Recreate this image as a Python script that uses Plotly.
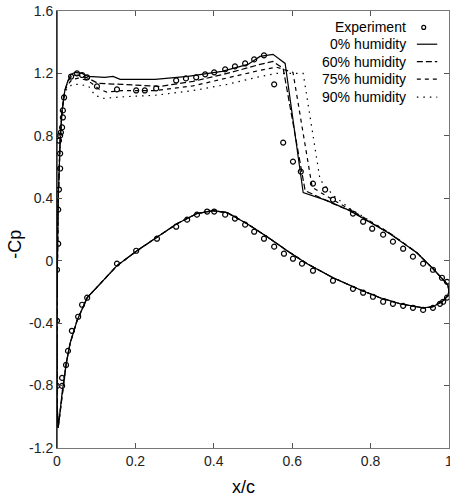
import plotly.graph_objects as go

# ---------------- data (x/c , -Cp) ----------------
# shared leading-edge rise of the upper surface (all model runs)
LE_X = [0.003, 0.0, 0.0, 0.003, 0.008, 0.013, 0.020]
LE_CP = [-1.07, -0.90, -0.26, 0.385, 0.77, 0.963, 1.091]

# upper surface, 0% humidity
UP0_X = [0.028, 0.036, 0.046, 0.064, 0.079, 0.122, 0.143, 0.161, 0.25, 0.334, 0.421,
         0.487, 0.518, 0.551, 0.582, 0.628, 0.689, 0.747, 0.781, 0.849, 0.918, 0.959, 0.997, 1.0]
UP0_CP = [1.155, 1.194, 1.207, 1.20, 1.181, 1.175, 1.181, 1.162, 1.162, 1.181, 1.213,
          1.258, 1.309, 1.322, 1.264, 0.436, 0.385, 0.321, 0.27, 0.173, 0.051, -0.051, -0.154, -0.193]

# upper surface, 60% humidity
UP60_X = [0.028, 0.038, 0.054, 0.079, 0.105, 0.166, 0.263, 0.347, 0.434, 0.518, 0.551,
          0.577, 0.633, 0.704, 0.747, 0.781, 0.849, 0.918, 0.959, 0.997, 1.0]
UP60_CP = [1.15, 1.185, 1.19, 1.17, 1.136, 1.13, 1.117, 1.149, 1.20, 1.258, 1.277,
           1.232, 0.449, 0.366, 0.321, 0.275, 0.175, 0.051, -0.051, -0.154, -0.193]

# upper surface, 75% humidity
UP75_X = [0.028, 0.038, 0.054, 0.079, 0.107, 0.127, 0.166, 0.25, 0.347, 0.434, 0.518,
          0.56, 0.602, 0.651, 0.704, 0.747, 0.781, 0.849, 0.918, 0.959, 0.997, 1.0]
UP75_CP = [1.13, 1.16, 1.17, 1.155, 1.10, 1.08, 1.09, 1.09, 1.12, 1.17, 1.22,
           1.24, 1.207, 0.47, 0.39, 0.33, 0.28, 0.177, 0.051, -0.051, -0.154, -0.193]

# upper surface, 90% humidity
UP90_X = [0.028, 0.038, 0.054, 0.080, 0.097, 0.117, 0.166, 0.25, 0.347, 0.434, 0.518,
          0.56, 0.628, 0.671, 0.704, 0.747, 0.781, 0.849, 0.918, 0.959, 0.997, 1.0]
UP90_CP = [1.10, 1.13, 1.13, 1.12, 1.06, 1.04, 1.05, 1.06, 1.09, 1.13, 1.18,
           1.20, 1.20, 0.52, 0.42, 0.335, 0.28, 0.177, 0.051, -0.051, -0.154, -0.193]

# lower surface (all model runs coincide)
LOW_X = [0.003, 0.008, 0.013, 0.023, 0.033, 0.051, 0.077, 0.110, 0.135, 0.153, 0.204,
         0.255, 0.306, 0.357, 0.398, 0.434, 0.485, 0.536, 0.587, 0.638, 0.704, 0.773,
         0.824, 0.875, 0.934, 0.959, 0.985, 0.997, 1.0]
LOW_CP = [-1.07, -0.963, -0.847, -0.668, -0.533, -0.385, -0.237, -0.148, -0.077, -0.032, 0.064,
          0.148, 0.237, 0.302, 0.321, 0.308, 0.237, 0.154, 0.064, -0.019, -0.109, -0.186,
          -0.237, -0.276, -0.302, -0.295, -0.257, -0.225, -0.193]

# experiment
EXP_UP_X = [0.003, 0.003, 0.005, 0.008, 0.008, 0.005, 0.008, 0.010, 0.013, 0.015, 0.015, 0.018,
            0.036, 0.051, 0.064, 0.077, 0.102, 0.153, 0.202, 0.224, 0.253, 0.304, 0.329, 0.355,
            0.378, 0.401, 0.429, 0.454, 0.480, 0.503, 0.528, 0.554, 0.577, 0.602, 0.622, 0.653,
            0.684, 0.704, 0.755, 0.781, 0.804, 0.832, 0.857, 0.883, 0.908, 0.934, 0.959, 0.982, 0.995]
EXP_UP_CP = [0.109, 0.327, 0.456, 0.591, 0.687, 0.770, 0.802, 0.822, 0.854, 0.918, 0.963, 1.046,
             1.18, 1.20, 1.19, 1.175, 1.117, 1.098, 1.091, 1.091, 1.104, 1.155, 1.168, 1.175,
             1.194, 1.207, 1.226, 1.245, 1.264, 1.29, 1.316, 1.13, 0.757, 0.635, 0.571, 0.494,
             0.456, 0.392, 0.302, 0.250, 0.205, 0.167, 0.122, 0.077, 0.026, -0.019, -0.058, -0.109, -0.135]
EXP_LOW_X = [0.0, 0.0, 0.0, 0.013, 0.013, 0.023, 0.028, 0.038, 0.054, 0.064, 0.077, 0.153,
             0.202, 0.255, 0.304, 0.332, 0.357, 0.383, 0.401, 0.429, 0.454, 0.480, 0.503, 0.528,
             0.554, 0.579, 0.602, 0.625, 0.653, 0.704, 0.755, 0.781, 0.806, 0.832, 0.857, 0.883,
             0.908, 0.934, 0.959, 0.977, 0.985, 0.995]
EXP_LOW_CP = [-0.058, -0.385, -0.802, -0.802, -0.751, -0.668, -0.578, -0.449, -0.359, -0.282, -0.237, -0.019,
              0.064, 0.141, 0.218, 0.263, 0.295, 0.315, 0.315, 0.295, 0.270, 0.231, 0.186, 0.141,
              0.090, 0.045, 0.013, -0.019, -0.064, -0.128, -0.180, -0.205, -0.231, -0.263, -0.276, -0.289,
              -0.302, -0.315, -0.302, -0.276, -0.263, -0.237]

X_TICKS = [0, 0.2, 0.4, 0.6, 0.8, 1.0]
X_TICK_TEXT = ["0", "0.2", "0.4", "0.6", "0.8", "1"]
Y_TICKS = [-1.2, -0.8, -0.4, 0, 0.4, 0.8, 1.2, 1.6]
Y_TICK_TEXT = ["-1.2", "-0.8", "-0.4", "0", "0.4", "0.8", "1.2", "1.6"]

LABELS = ["Experiment", "0% humidity", "60% humidity", "75% humidity", "90% humidity"]
DASHES = ["solid", "6px,3px", "4px,4px", "1.5px,5px"]

FONT = "Liberation Sans, Arial, sans-serif"

fig = go.Figure()


def loop(up_x, up_cp):
    ux = LE_X + up_x
    uy = LE_CP + up_cp
    return ux[::-1] + LOW_X, uy[::-1] + LOW_CP


series = [(UP0_X, UP0_CP), (UP60_X, UP60_CP), (UP75_X, UP75_CP), (UP90_X, UP90_CP)]
for (ux, uy), dash, name in zip(series, DASHES, LABELS[1:]):
    lx, ly = loop(ux, uy)
    fig.add_trace(go.Scatter(x=lx, y=ly, mode="lines", name=name,
                             line=dict(color="black", width=1.2, dash=dash),
                             showlegend=False))

fig.add_trace(go.Scatter(x=EXP_UP_X + EXP_LOW_X, y=EXP_UP_CP + EXP_LOW_CP, mode="markers",
                         name=LABELS[0],
                         marker=dict(symbol="circle-open", size=5, color="black",
                                     line=dict(width=1.2, color="black")),
                         showlegend=False))

# gnuplot-style key: text right-aligned, sample to its right
key_y = [0.963, 0.924, 0.884, 0.844, 0.803]
shapes = []
annotations = []
for i, lab in enumerate(LABELS):
    annotations.append(dict(xref="paper", yref="paper", x=0.895, y=key_y[i], text=lab,
                            showarrow=False, xanchor="right", yanchor="middle",
                            font=dict(family=FONT, size=14, color="black")))
    if i == 0:
        shapes.append(dict(type="circle", xref="paper", yref="paper",
                           x0=0.9305, x1=0.9405, y0=key_y[i] - 0.005, y1=key_y[i] + 0.004,
                           line=dict(color="black", width=1.2)))
    else:
        shapes.append(dict(type="line", xref="paper", yref="paper",
                           x0=0.918, x1=0.97, y0=key_y[i], y1=key_y[i],
                           line=dict(color="black", width=1.2, dash=DASHES[i - 1])))

shapes.append(dict(type="line", xref="paper", yref="paper", x0=0, x1=0, y0=0, y1=1,
                   line=dict(color="black", width=1.2)))

annotations.append(dict(xref="paper", yref="paper", x=0.475, y=-0.09, text="x/c",
                        showarrow=False, xanchor="center", yanchor="middle",
                        font=dict(family=FONT, size=18, color="black")))
annotations.append(dict(xref="paper", yref="paper", x=-0.107, y=0.465, text="-Cp",
                        textangle=-90, showarrow=False, xanchor="center", yanchor="middle",
                        font=dict(family=FONT, size=18, color="black")))

fig.update_layout(
    width=450, height=500,
    margin=dict(l=57, r=1, t=11, b=52),
    paper_bgcolor="white", plot_bgcolor="white",
    font=dict(family=FONT, size=14, color="black"),
    shapes=shapes, annotations=annotations,
    showlegend=False,
)
fig.update_xaxes(range=[0, 1], tickvals=X_TICKS, ticktext=X_TICK_TEXT,
                 ticks="inside", ticklen=5, tickcolor="#555", tickwidth=1,
                 showline=True, linecolor="#777", linewidth=1, mirror="ticks",
                 showgrid=False, zeroline=False, automargin=False,
                 ticklabeloverflow="allow",
                 tickfont=dict(family=FONT, size=14, color="#222"))
fig.update_yaxes(range=[-1.2, 1.6], tickvals=Y_TICKS, ticktext=Y_TICK_TEXT,
                 ticks="inside", ticklen=5, tickcolor="#555", tickwidth=1,
                 showline=True, linecolor="#777", linewidth=1, mirror="ticks",
                 showgrid=False, zeroline=False, automargin=False,
                 ticklabeloverflow="allow",
                 tickfont=dict(family=FONT, size=14, color="#222"))

fig.write_html("out.html", config={"displayModeBar": False},
               post_script="document.body.style.margin='0';document.body.style.overflow='hidden';")
